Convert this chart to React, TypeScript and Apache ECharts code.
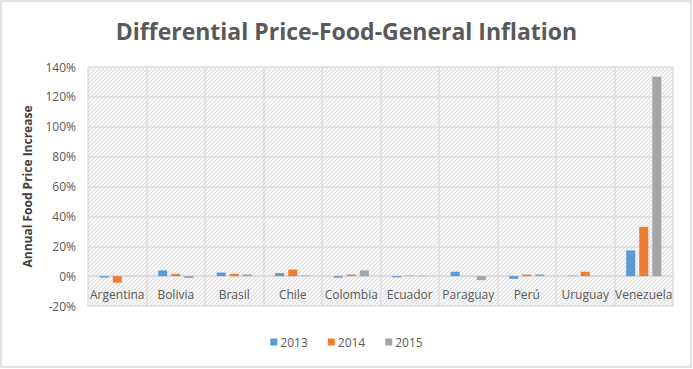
import React, { useEffect, useRef } from "react";
import * as echarts from "echarts";

const categories = ["Argentina", "Bolivia", "Brasil", "Chile", "Colombia", "Ecuador", "Paraguay", "Perú", "Uruguay", "Venezuela"];
const values2013 = [-1.0, 3.8, 2.4, 2.0, -1.0, -0.8, 2.9, -1.8, 0.3, 17.2];
const values2014 = [-4.4, 1.5, 1.5, 4.4, 1.0, 0.3, 0.1, 1.0, 2.9, 33.0];
const values2015 = [0.1, -1.3, 1.1, 0.4, 3.8, 0.3, -2.7, 1.2, 0.1, 133.5];
const seriesNames = ["2013", "2014", "2015"];
const colors = ["#5B9BD5", "#ED7D31", "#A5A5A5"];

function makePattern(): any {
  const c = document.createElement("canvas");
  c.width = 4;
  c.height = 4;
  const ctx = c.getContext("2d");
  if (!ctx) return "#f1f1f1";
  ctx.fillStyle = "#f6f6f6";
  ctx.fillRect(0, 0, 4, 4);
  ctx.fillStyle = "#dddddd";
  for (let i = 0; i < 4; i++) {
    ctx.fillRect(i, 3 - i, 1, 1);
  }
  return { image: c, repeat: "repeat" };
}

export default function App() {
  const ref = useRef<HTMLDivElement>(null);
  useEffect(() => {
    if (!ref.current) return;
    const chart = echarts.init(ref.current, undefined, { renderer: "svg" });
    const font = "'Open Sans', 'Noto Sans', sans-serif";
    chart.setOption({
      animation: false,
      backgroundColor: "#ffffff",
      title: {
        text: "Differential Price-Food-General Inflation",
        left: "center",
        top: 14,
        textStyle: { fontFamily: font, fontSize: 23, fontWeight: "bold", color: "#595959" },
      },
      grid: {
        left: 88,
        right: 20,
        top: 67,
        bottom: 63,
        show: true,
        backgroundColor: makePattern(),
        borderWidth: 0,
      },
      legend: {
        data: seriesNames,
        bottom: 16,
        left: "center",
        itemWidth: 7,
        itemHeight: 7,
        itemGap: 20,
        icon: "rect",
        textStyle: { fontFamily: font, fontSize: 12, color: "#595959", padding: [0, 0, 0, -2] },
      },
      xAxis: {
        type: "category",
        data: categories,
        offset: -30,
        axisLine: { onZero: false, lineStyle: { color: "#d9d9d9", width: 1.5 } },
        axisTick: { show: false },
        axisLabel: { fontFamily: font, fontSize: 12, color: "#595959", margin: 12, interval: 0 },
        splitLine: { show: true, interval: 0, lineStyle: { color: "#dedede", width: 1.5 } },
      },
      yAxis: {
        type: "value",
        min: -20,
        max: 140,
        interval: 20,
        name: "Annual Food Price Increase",
        nameLocation: "middle",
        nameGap: 55,
        nameTextStyle: { fontFamily: font, fontSize: 12, fontWeight: "bold", color: "#404040" },
        axisLine: { show: false },
        axisTick: { show: false },
        axisLabel: { fontFamily: font, fontSize: 12, color: "#595959", formatter: "{value}%", margin: 12 },
        splitLine: { lineStyle: { color: "#dedede", width: 1.5 } },
      },
      series: [values2013, values2014, values2015].map((d, i) => ({
        name: seriesNames[i],
        type: "bar",
        data: d,
        barWidth: 9,
        barGap: "45%",
        itemStyle: { color: colors[i] },
      })),
      graphic: [
        {
          type: "rect",
          shape: { x: 1, y: 1, width: 690, height: 366 },
          style: { fill: "none", stroke: "#d9d9d9", lineWidth: 1.5 },
          silent: true,
        },
      ],
    });
    return () => chart.dispose();
  }, []);
  return <div ref={ref} style={{ width: 693, height: 369, position: "fixed", left: 0, top: 0 }} />;
}
